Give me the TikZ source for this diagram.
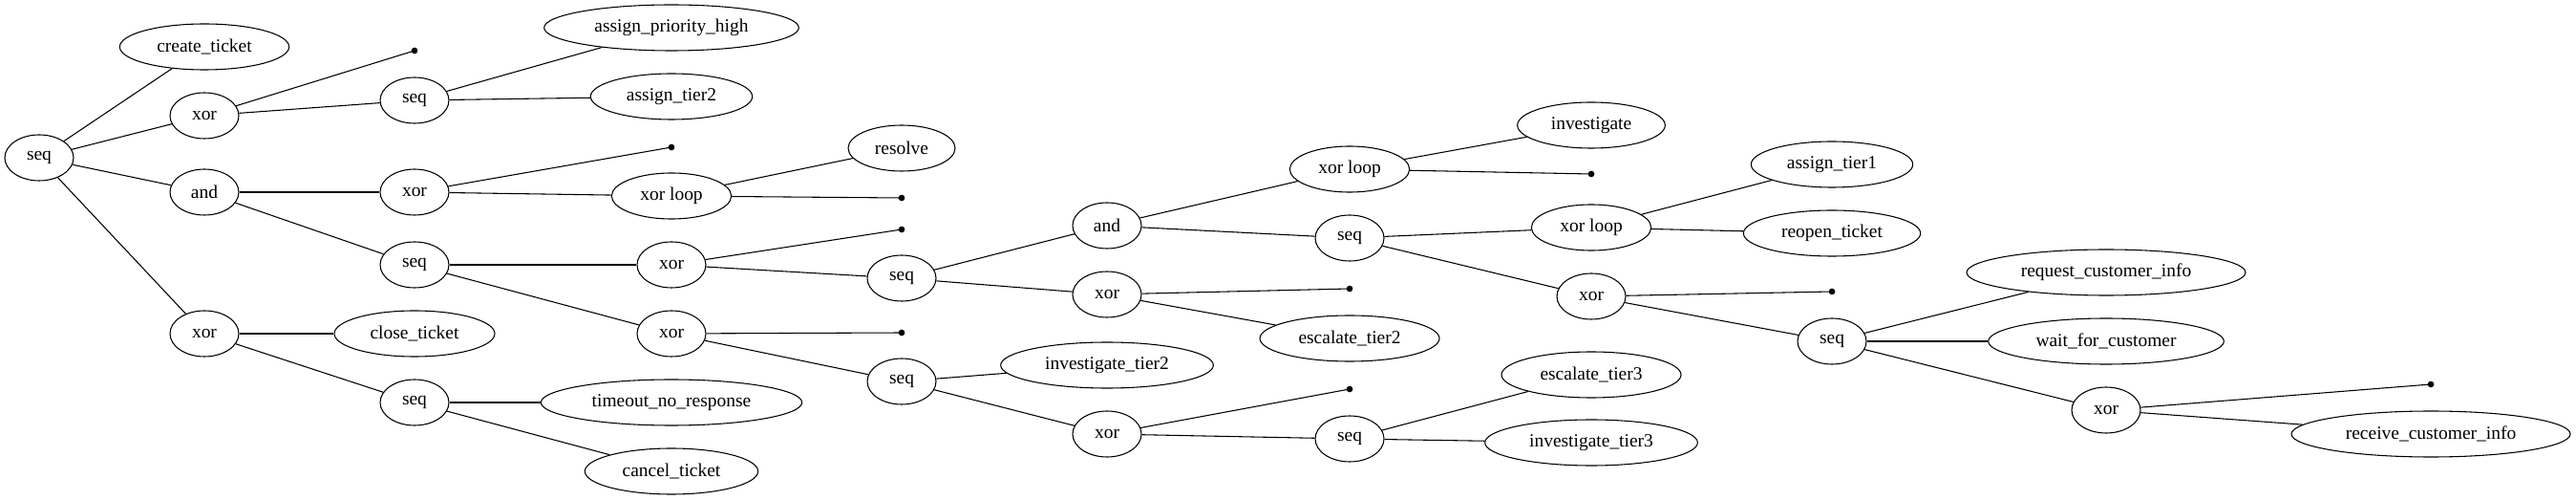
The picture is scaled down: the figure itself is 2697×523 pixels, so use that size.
\documentclass[tikz,border=0pt]{standalone}
\usepackage{fontspec}
\setmainfont{Liberation Serif}
\usetikzlibrary{shapes.geometric}
\begin{document}
\begin{tikzpicture}[x=0.75pt,y=-0.75pt,line width=0.8pt,
  op/.style={draw,ellipse,minimum width=54pt,minimum height=36pt,inner sep=0pt,font=\fontsize{14.6pt}{16pt}\selectfont},
  act/.style={draw,ellipse,minimum width=#1,minimum height=36pt,inner sep=0pt,font=\fontsize{14.6pt}{16pt}\selectfont},
  endpt/.style={circle,fill=black,draw=none,minimum size=5pt,inner sep=0pt},
  edge/.style={draw=black,line width=0.8pt}]
\fill[white] (0,0) rectangle (2697,523);
\useasboundingbox (0,0) rectangle (2697,523);
% column 0
\node[op] (root) at (41,165) {seq};
% column 1
\node[act=133pt] (create) at (214,49) {create\_ticket};
\node[op] (xorA) at (214,121) {xor};
\node[op] (andA) at (214,201) {and};
\node[op] (xorB) at (214,349) {xor};
% column 2
\node[endpt] (p1) at (434,53) {};
\node[op] (seqA) at (434,105) {seq};
\node[op] (xorC) at (434,201) {xor};
\node[op] (seqB) at (434,277) {seq};
\node[act=126pt] (close) at (434,349) {close\_ticket};
\node[op] (seqC) at (434,421) {seq};
% column 3
\node[act=200pt] (aph) at (703,29) {assign\_priority\_high};
\node[act=127pt] (at2) at (703,101) {assign\_tier2};
\node[endpt] (p2) at (703,154) {};
\node[act=94pt] (xlA) at (703,205) {xor loop};
\node[op] (xorD) at (703,277) {xor};
\node[op] (xorE) at (703,349) {xor};
\node[act=205pt] (tnr) at (703,421) {timeout\_no\_response};
\node[act=136pt] (cancel) at (703,493) {cancel\_ticket};
% column 4
\node[act=84pt] (resolve) at (944,155) {resolve};
\node[endpt] (p3) at (944,207) {};
\node[endpt] (p4) at (944,240) {};
\node[op] (seqD) at (944,291) {seq};
\node[endpt] (p5) at (944,348) {};
\node[op] (seqE) at (944,399) {seq};
% column 5
\node[op] (andB) at (1159,236) {and};
\node[op] (xorF) at (1159,308) {xor};
\node[act=167pt] (it2) at (1159,382) {investigate\_tier2};
\node[op] (xorG) at (1159,454) {xor};
% column 6
\node[act=94pt] (xlB) at (1413,177) {xor loop};
\node[op] (seqF) at (1413,249) {seq};
\node[endpt] (p7) at (1413,302) {};
\node[act=141pt] (et2) at (1413,354) {escalate\_tier2};
\node[endpt] (p8) at (1413,407) {};
\node[op] (seqG) at (1413,459) {seq};
% column 7
\node[act=116pt] (inv) at (1666,131) {investigate};
\node[endpt] (p6) at (1666,182) {};
\node[act=94pt] (xlC) at (1666,238) {xor loop};
\node[op] (xorH) at (1666,310) {xor};
\node[act=141pt] (et3) at (1666,392) {escalate\_tier3};
\node[act=167pt] (it3) at (1666,463) {investigate\_tier3};
% column 8
\node[act=127pt] (at1) at (1918,172) {assign\_tier1};
\node[act=139pt] (reopen) at (1918,244) {reopen\_ticket};
\node[endpt] (p9) at (1918,305) {};
\node[op] (seqH) at (1918,357) {seq};
% column 9
\node[act=219pt] (rci) at (2205,285) {request\_customer\_info};
\node[act=185pt] (wfc) at (2205,357) {wait\_for\_customer};
\node[op] (xorI) at (2205,429) {xor};
% column 10
\node[endpt] (p10) at (2545,402) {};
\node[act=219pt] (recv) at (2545,454) {receive\_customer\_info};
% edges
\path[edge] (root) -- (create);
\path[edge] (root) -- (xorA);
\path[edge] (root) -- (andA);
\path[edge] (root) -- (xorB);
\path[edge] (xorA) -- (p1.center);
\path[edge] (xorA) -- (seqA);
\path[edge] (seqA) -- (aph);
\path[edge] (seqA) -- (at2);
\path[edge] (andA) -- (xorC);
\path[edge] (andA) -- (seqB);
\path[edge] (xorC) -- (p2.center);
\path[edge] (xorC) -- (xlA);
\path[edge] (xlA) -- (resolve);
\path[edge] (xlA) -- (p3.center);
\path[edge] (seqB) -- (xorD);
\path[edge] (seqB) -- (xorE);
\path[edge] (xorD) -- (p4.center);
\path[edge] (xorD) -- (seqD);
\path[edge] (xorE) -- (p5.center);
\path[edge] (xorE) -- (seqE);
\path[edge] (xorB) -- (close);
\path[edge] (xorB) -- (seqC);
\path[edge] (seqC) -- (tnr);
\path[edge] (seqC) -- (cancel);
\path[edge] (seqD) -- (andB);
\path[edge] (seqD) -- (xorF);
\path[edge] (andB) -- (xlB);
\path[edge] (andB) -- (seqF);
\path[edge] (xlB) -- (inv);
\path[edge] (xlB) -- (p6.center);
\path[edge] (seqF) -- (xlC);
\path[edge] (seqF) -- (xorH);
\path[edge] (xlC) -- (at1);
\path[edge] (xlC) -- (reopen);
\path[edge] (xorH) -- (p9.center);
\path[edge] (xorH) -- (seqH);
\path[edge] (seqH) -- (rci);
\path[edge] (seqH) -- (wfc);
\path[edge] (seqH) -- (xorI);
\path[edge] (xorI) -- (p10.center);
\path[edge] (xorI) -- (recv);
\path[edge] (xorF) -- (p7.center);
\path[edge] (xorF) -- (et2);
\path[edge] (seqE) -- (it2);
\path[edge] (seqE) -- (xorG);
\path[edge] (xorG) -- (p8.center);
\path[edge] (xorG) -- (seqG);
\path[edge] (seqG) -- (et3);
\path[edge] (seqG) -- (it3);
\end{tikzpicture}
\end{document}
